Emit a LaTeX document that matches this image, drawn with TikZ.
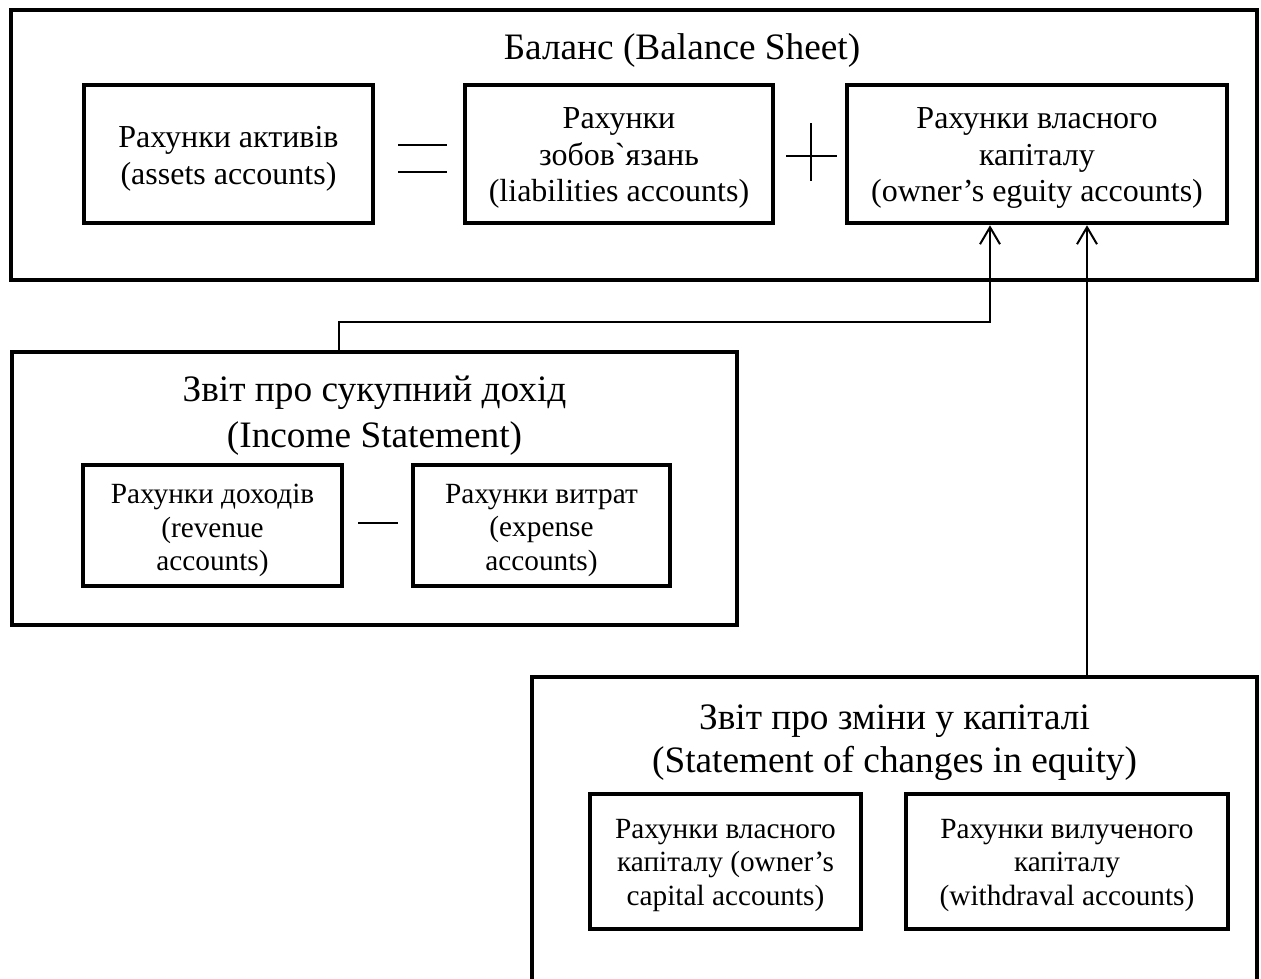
\documentclass[tikz,border=0pt]{standalone}
\usepackage{fontspec}
\setmainfont{Liberation Serif}
\usetikzlibrary{arrows.meta,calc}

\begin{document}
\begin{tikzpicture}[x=1pt,y=-1pt,
  frame/.style={draw, line width=4.5pt, inner sep=0pt},
  acctbox/.style={draw, line width=4.5pt, inner sep=0pt},
  accttext/.style={align=center, inner sep=0pt,
    font=\fontsize{32}{36.8}\selectfont},
  subtext/.style={align=center, inner sep=0pt,
    font=\fontsize{29.3}{33.7}\selectfont},
  heading/.style={align=center, inner sep=0pt,
    font=\fontsize{37.3}{42.9}\selectfont},
  sign/.style={line width=2pt},
  link/.style={line width=2pt},
  flow/.style={link, -{Straight Barb[length=17pt,width=20pt]}}]

\fill[white] (0,0) rectangle (1261,978);
\useasboundingbox (0,0) rectangle (1261,978);
\clip (0,0) rectangle (1261,978);

% Balance sheet
\node[frame, minimum width=1246pt, minimum height=270pt] (bs) at (634,145) {};
\node[heading] (bsTitle) at (682,51) {Баланс (Balance Sheet)};
\node[acctbox, minimum width=289pt, minimum height=138pt] (assets) at (228.5,154) {};
\node[acctbox, minimum width=308pt, minimum height=138pt] (liab) at (619,154) {};
\node[acctbox, minimum width=380pt, minimum height=138pt] (eq) at (1037,154) {};
\node[accttext] (assetsTxt) at ([yshift=-5pt]assets.center)
  {Рахунки активів\\(assets accounts)};
\node[accttext] (liabTxt) at ([yshift=-4pt]liab.center)
  {Рахунки\\зобов\textasciigrave язань\\(liabilities accounts)};
\node[accttext] (eqTxt) at ([yshift=-4pt]eq.center)
  {Рахунки власного\\капіталу\\(owner’s eguity accounts)};

% equals sign and plus sign
\draw[sign] (398,145) -- (447,145);
\draw[sign] (398,172) -- (447,172);
\draw[sign] (786,156) -- (837,156);
\draw[sign] (811,123) -- (811,181);

% Income statement
\node[frame, minimum width=725pt, minimum height=273pt] (inc) at (374.5,488.5) {};
\node[heading, font=\fontsize{37.3}{46}\selectfont] (incTitle) at (374.5,416)
  {Звіт про сукупний дохід\\(Income Statement)};
\node[acctbox, minimum width=259pt, minimum height=121pt] (rev) at (212.5,525.5) {};
\node[acctbox, minimum width=257pt, minimum height=121pt] (exp) at (541.5,525.5) {};
\node[subtext] (revTxt) at ([yshift=-5pt]rev.center)
  {Рахунки доходів\\(revenue\\accounts)};
\node[subtext] (expTxt) at ([yshift=-5pt]exp.center)
  {Рахунки витрат\\(expense\\accounts)};
\draw[sign] (358,523) -- (398,523);

% Statement of changes in equity
\node[frame, minimum width=725pt, minimum height=423pt] (sce) at (894.5,888.5) {};
\node[heading] (sceTitle) at (894.5,742.5)
  {Звіт про зміни у капіталі\\(Statement of changes in equity)};
\node[acctbox, minimum width=271pt, minimum height=135pt] (cap) at (725.5,861.5) {};
\node[acctbox, minimum width=322pt, minimum height=135pt] (wd) at (1067,861.5) {};
\node[subtext] (capTxt) at ([yshift=-4pt]cap.center)
  {Рахунки власного\\капіталу (owner’s\\capital accounts)};
\node[subtext] (wdTxt) at ([yshift=-4pt]wd.center)
  {Рахунки вилученого\\капіталу\\(withdraval accounts)};

% links into owner's equity
\coordinate (incTap) at ([xshift=-35.5pt]inc.north);
\coordinate (eqIn1) at ([xshift=-47pt]eq.south);
\coordinate (eqIn2) at ([xshift=50pt]eq.south);
\draw[flow] (incTap) -- ++(0,-28) -| (eqIn1);
\draw[flow] (sce.north -| eqIn2) -- (eqIn2);

\end{tikzpicture}
\end{document}
